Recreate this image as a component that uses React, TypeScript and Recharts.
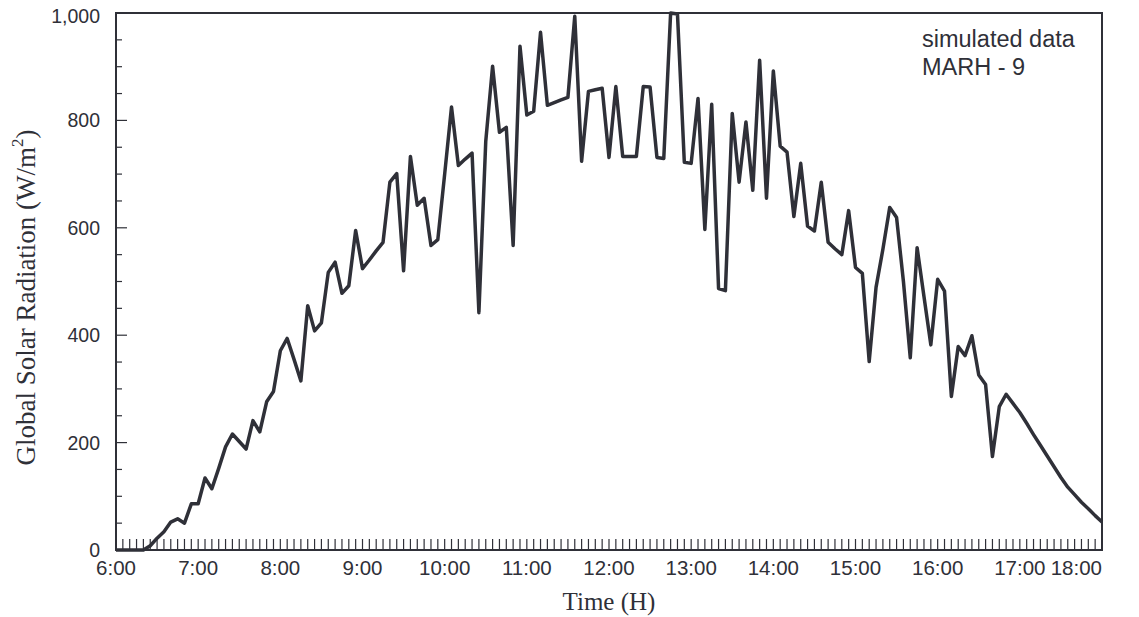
import React from "react";
import { LineChart, Line, XAxis, YAxis, ReferenceArea } from "recharts";

// Global solar radiation (W/m²), one value every 5 minutes from 6:00 to 18:00
const radiation: number[] = [
  0, 0, 0, 0, 0, 8, 22, 34, 52, 58,
  50, 86, 86, 134, 114, 152, 192, 216, 202, 188,
  241, 220, 276, 295, 371, 394, 355, 315, 455, 408,
  423, 517, 536, 478, 492, 595, 524, 540, 557, 573,
  685, 701, 520, 733, 642, 655, 567, 578, 700, 825,
  716, 728, 739, 442, 761, 901, 778, 787, 567, 938,
  810, 817, 964, 828, 833, 838, 843, 994, 724, 854,
  857, 860, 731, 863, 733, 733, 733, 863, 862, 731,
  729, 1000, 998, 722, 720, 841, 597, 830, 487, 483,
  813, 685, 797, 670, 912, 655, 892, 752, 741, 621,
  720, 603, 594, 685, 573, 561, 550, 632, 526, 515,
  351, 489, 560, 638, 619, 500, 358, 563, 472, 382,
  504, 482, 286, 379, 362, 399, 326, 308, 174, 267,
  290, 273, 256, 236, 215, 195, 175, 155, 135, 117,
  103, 89, 77, 64, 52,
];

const stepMinutes = 5;
const hourLabels: string[] = [
  "6:00", "7:00", "8:00", "9:00", "10:00", "11:00", "12:00",
  "13:00", "14:00", "15:00", "16:00", "17:00", "18:00",
];
const yMajorTicks: number[] = [0, 200, 400, 600, 800, 1000];
const yTickLabels: string[] = ["0", "200", "400", "600", "800", "1,000"];
const annotationLines: string[] = ["simulated data", "MARH - 9"];

const data = radiation.map((v, i) => ({ t: i * stepMinutes, r: v }));
const xTicks = radiation.map((_, i) => i * stepMinutes);
const yTicks: number[] = [];
for (let v = 0; v <= 1000; v += 50) yTicks.push(v);

const INK = "#2f3038";
const SANS = "'Liberation Sans', Arial, sans-serif";
const SERIF = "'Liberation Serif', 'Times New Roman', serif";

const XTick = (props: any) => {
  const { x, y, payload } = props;
  const m = payload.value as number;
  const isHour = m % 60 === 0;
  const idx = m / 60;
  const last = idx === hourLabels.length - 1;
  return (
    <g>
      <line x1={x} x2={x} y1={y} y2={y - 11} stroke={INK} strokeWidth={1.2} />
      {isHour && (
        <text
          x={x}
          y={y + 25}
          textAnchor={last ? "end" : "middle"}
          fontFamily={SANS}
          fontSize={20.5}
          fill={INK}
        >
          {hourLabels[idx]}
        </text>
      )}
    </g>
  );
};

const YTick = (props: any) => {
  const { x, y, payload } = props;
  const v = payload.value as number;
  const mi = yMajorTicks.indexOf(v);
  const major = mi >= 0;
  const top = mi === yMajorTicks.length - 1;
  return (
    <g>
      <line x1={x} x2={x + (major ? 11 : 6)} y1={y} y2={y} stroke={INK} strokeWidth={1.2} />
      {major && (
        <text x={x - 16} y={y + (top ? 10 : 7)} textAnchor="end" fontFamily={SANS} fontSize={19.5} fill={INK}>
          {yTickLabels[mi]}
        </text>
      )}
    </g>
  );
};

const YTitle = (props: any) => {
  const { viewBox } = props;
  const cx = viewBox.x + 18;
  const cy = viewBox.y + viewBox.height / 2 + 16;
  return (
    <text
      x={cx}
      y={cy}
      transform={`rotate(-90 ${cx} ${cy})`}
      textAnchor="middle"
      dominantBaseline="central"
      fontFamily={SERIF}
      fontSize={27}
      fill={INK}
    >
      Global Solar Radiation (W/m<tspan dy={-9} fontSize={17}>2</tspan><tspan dy={9}>)</tspan>
    </text>
  );
};

const XTitle = (props: any) => {
  const { viewBox } = props;
  const cx = viewBox.x + viewBox.width / 2;
  return (
    <text
      x={cx}
      y={viewBox.y + 60}
      textAnchor="middle"
      fontFamily={SERIF}
      fontSize={25}
      fill={INK}
    >
      Time (H)
    </text>
  );
};

export default function App() {
  return (
    <div style={{ position: "relative", width: 1131, height: 615, marginTop: -6, background: "#fff" }}>
      <LineChart
        width={1131}
        height={615}
        data={data}
        margin={{ top: 11, right: 37, bottom: 0, left: 0 }}
      >
        <XAxis
          dataKey="t"
          type="number"
          domain={[0, 720]}
          ticks={xTicks}
          interval={0}
          tickSize={0}
          tickMargin={0}
          tickLine={false}
          axisLine={false}
          tick={<XTick />}
          height={67}
          label={<XTitle />}
        />
        <YAxis
          type="number"
          domain={[0, 1000]}
          ticks={yTicks}
          interval={0}
          tickSize={0}
          tickMargin={0}
          tickLine={false}
          axisLine={false}
          tick={<YTick />}
          width={108}
          label={<YTitle />}
        />
        <ReferenceArea
          x1={0}
          x2={720}
          y1={0}
          y2={1000}
          fill="none"
          stroke={INK}
          strokeWidth={2}
          ifOverflow="visible"
        />
        <Line
          type="linear"
          dataKey="r"
          stroke={INK}
          strokeWidth={3.5}
          dot={false}
          isAnimationActive={false}
          strokeLinejoin="round"
        />
      </LineChart>
      <div
        style={{
          position: "absolute",
          left: 914,
          top: 23,
          fontFamily: SANS,
          fontSize: 23.5,
          lineHeight: "28px",
          color: INK,
        }}
      >
        {annotationLines.map((s) => (
          <div key={s}>{s}</div>
        ))}
      </div>
    </div>
  );
}
